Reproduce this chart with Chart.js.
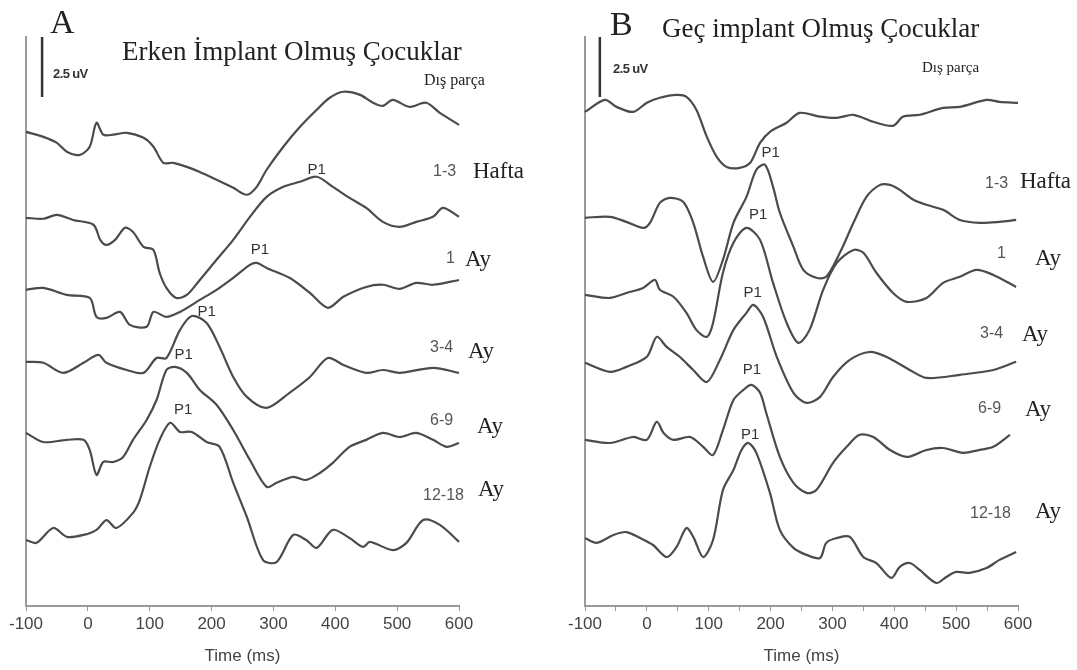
<!DOCTYPE html>
<html>
<head>
<meta charset="utf-8">
<script src="https://cdn.jsdelivr.net/npm/chart.js@4.4.1/dist/chart.umd.min.js"></script>
<style>
  body { margin: 0; background: #fff; width: 1077px; height: 670px; position: relative; overflow: hidden; }
  canvas { position: absolute; top: 0; }
  #chartA { left: 0; }
  #chartB { left: 540px; }
  .t { position: absolute; line-height: 1; white-space: nowrap; transform: translateY(-50%); }
  .serif { font-family: "Liberation Serif", "Times New Roman", serif; color: #222; }
  .sans { font-family: "Liberation Sans", Arial, sans-serif; color: #555; }
  .bar { font-family: "Liberation Sans", Arial, sans-serif; font-weight: bold; font-size: 13px; color: #333; letter-spacing: -0.6px; }
</style>
</head>
<body>
<canvas id="chartA" width="540" height="670"></canvas>
<canvas id="chartB" width="537" height="670"></canvas>

<div class="t serif" style="left:50px; top:22px; font-size:34px;">A</div>
<div class="t serif" style="left:122px; top:51px; font-size:27px;">Erken İmplant Olmuş Çocuklar</div>
<div class="t serif" style="left:424px; top:80px; font-size:16px;">Dış parça</div>
<div class="t bar" style="left:53px; top:73px;">2.5 uV</div>
<div class="t sans" style="left:433px; top:171px; font-size:16px;">1-3</div>
<div class="t serif" style="left:473px; top:170px; font-size:23px;">Hafta</div>
<div class="t sans" style="left:446px; top:258px; font-size:16px;">1</div>
<div class="t serif" style="left:465px; top:258px; font-size:23px;">Ay</div>
<div class="t sans" style="left:430px; top:347px; font-size:16px;">3-4</div>
<div class="t serif" style="left:468px; top:350px; font-size:23px;">Ay</div>
<div class="t sans" style="left:430px; top:420px; font-size:16px;">6-9</div>
<div class="t serif" style="left:477px; top:425px; font-size:23px;">Ay</div>
<div class="t sans" style="left:423px; top:495px; font-size:16px;">12-18</div>
<div class="t serif" style="left:478px; top:488px; font-size:23px;">Ay</div>

<div class="t serif" style="left:610px; top:24px; font-size:34px;">B</div>
<div class="t serif" style="left:662px; top:28px; font-size:27px;">Geç implant Olmuş Çocuklar</div>
<div class="t serif" style="left:922px; top:67px; font-size:15px;">Dış parça</div>
<div class="t bar" style="left:613px; top:68px;">2.5 uV</div>
<div class="t sans" style="left:985px; top:183px; font-size:16px;">1-3</div>
<div class="t serif" style="left:1020px; top:180px; font-size:23px;">Hafta</div>
<div class="t sans" style="left:997px; top:253px; font-size:16px;">1</div>
<div class="t serif" style="left:1035px; top:257px; font-size:23px;">Ay</div>
<div class="t sans" style="left:980px; top:333px; font-size:16px;">3-4</div>
<div class="t serif" style="left:1022px; top:333px; font-size:23px;">Ay</div>
<div class="t sans" style="left:978px; top:408px; font-size:16px;">6-9</div>
<div class="t serif" style="left:1025px; top:408px; font-size:23px;">Ay</div>
<div class="t sans" style="left:970px; top:513px; font-size:16px;">12-18</div>
<div class="t serif" style="left:1035px; top:510px; font-size:23px;">Ay</div>

<script>
// x range of both panels (ms) and the visible amplitude range (uV, traces stacked)
const timeMin = -100;
const timeMax = 600;
const ampMax = 23.7;
const scaleBarUv = 2.5;

// A: early implanted children, [time ms, amplitude uV incl. stacking offset]
const earlyOuter = [[-100,19.75],[-72,19.54],[-50,19.29],[-34,18.92],[-13,18.79],[3,19.13],[14,20.13],[25,19.63],[41,19.63],[63,19.71],[90,19.5],[106,19.13],[122,18.46],[138,18.46],[160,18.29],[181,18.08],[208,17.75],[235,17.42],[257,17.13],[273,17.46],[289,18.17],[316,19.13],[343,19.96],[370,20.67],[391,21.17],[413,21.42],[440,21.29],[461,20.96],[477,20.83],[493,21.08],[520,20.79],[547,20.96],[569,20.54],[600,20.04]];
const earlyWeek1to3 = [[-100,16.17],[-72,16.13],[-50,16.29],[-24,16.08],[9,15.88],[20,15.25],[30,15.04],[44,15.25],[60,15.75],[73,15.58],[90,14.96],[106,14.83],[116,13.88],[127,13.25],[143,12.83],[160,12.96],[181,13.58],[208,14.42],[235,15.25],[262,16.21],[289,17.04],[316,17.46],[343,17.67],[370,17.88],[396,17.46],[423,17.0],[450,16.58],[477,16.0],[504,15.79],[531,16.0],[558,16.21],[574,16.58],[600,16.21]];
const earlyMonth1 = [[-100,13.17],[-72,13.25],[-34,12.96],[3,12.83],[14,12.04],[30,12.0],[52,12.25],[68,11.71],[95,11.63],[106,12.25],[127,12.04],[149,12.25],[181,12.75],[208,13.17],[235,13.67],[262,14.21],[273,14.29],[289,14.08],[326,13.67],[359,13.04],[388,12.42],[413,12.88],[450,13.29],[477,13.38],[504,13.21],[531,13.46],[558,13.38],[600,13.58]];
const earlyMonth3to4 = [[-100,10.17],[-72,10.13],[-40,9.71],[-7,10.13],[17,10.46],[30,10.13],[63,9.83],[90,9.71],[111,10.33],[127,10.33],[149,11.5],[168,12.08],[192,11.79],[213,10.79],[235,9.54],[257,8.71],[289,8.25],[326,8.88],[359,9.54],[388,10.33],[413,10.04],[450,9.71],[477,9.83],[504,9.71],[558,9.92],[600,9.71]];
const earlyMonth6to9 = [[-100,7.21],[-72,6.83],[-34,6.92],[-7,6.92],[3,6.5],[14,5.46],[25,6.0],[41,6.0],[57,6.21],[73,6.92],[95,7.75],[111,8.58],[127,9.83],[141,9.96],[160,9.71],[181,9.0],[208,8.38],[235,7.33],[262,6.08],[289,4.96],[305,5.13],[332,5.38],[353,5.25],[375,5.54],[396,5.96],[423,6.63],[450,6.92],[477,7.21],[504,7.04],[531,7.21],[558,6.92],[580,6.63],[600,6.79]];
const earlyMonth12to18 = [[-100,2.75],[-83,2.63],[-56,3.25],[-34,2.88],[-7,2.96],[14,3.17],[30,3.58],[46,3.25],[73,3.88],[84,4.42],[100,5.79],[116,6.92],[133,7.63],[149,7.25],[168,7.25],[192,6.83],[213,6.63],[235,5.13],[257,3.71],[283,1.92],[305,1.83],[332,2.96],[353,2.75],[370,2.42],[396,3.17],[423,2.83],[445,2.46],[456,2.67],[493,2.33],[515,2.63],[542,3.58],[569,3.38],[600,2.67]];
const earlyP1 = [[370,18.17],[278,14.83],[192,12.25],[155,10.46],[154,8.17]];

// B: late implanted children
const lateOuter = [[-100,20.58],[-68,21.08],[-49,20.79],[-22,20.58],[0,20.96],[21,21.17],[48,21.29],[64,21.21],[80,20.67],[97,19.54],[113,18.71],[129,18.29],[150,18.25],[167,18.46],[183,19.29],[199,19.75],[226,20.13],[247,20.54],[280,20.38],[307,20.33],[334,20.46],[366,20.17],[398,20.0],[414,20.38],[441,20.46],[479,20.75],[506,20.79],[549,21.08],[570,21.0],[600,20.96]];
const lateWeek1to3 = [[-100,16.17],[-60,16.21],[-33,16.0],[-6,15.75],[5,15.96],[21,16.79],[37,17.0],[59,16.83],[75,15.96],[91,14.54],[107,13.5],[123,14.42],[140,15.96],[161,17.04],[177,18.17],[191,18.38],[204,17.46],[215,16.38],[237,14.96],[253,14.0],[274,13.67],[290,13.71],[312,14.71],[334,15.96],[355,17.04],[377,17.54],[393,17.54],[409,17.33],[431,16.92],[452,16.71],[479,16.5],[506,16.08],[538,15.96],[570,16.0],[597,16.08]];
const lateMonth1 = [[-100,12.96],[-60,12.83],[-33,13.04],[-6,13.25],[13,13.58],[21,13.17],[43,12.88],[64,12.21],[80,11.5],[97,11.21],[107,11.79],[123,13.88],[140,15.13],[161,15.75],[183,15.25],[204,13.46],[226,11.79],[245,10.96],[263,11.5],[285,13.17],[307,14.29],[334,14.83],[350,14.71],[371,13.88],[398,13.04],[420,12.67],[452,12.83],[479,13.46],[506,13.71],[533,14.0],[560,13.79],[597,13.29]];
const lateMonth3to4 = [[-100,10.13],[-60,9.75],[-33,9.96],[0,10.38],[16,11.21],[32,10.79],[53,10.38],[75,9.83],[97,9.33],[118,10.25],[140,11.5],[161,12.21],[172,12.54],[188,12.04],[210,10.38],[237,8.88],[258,8.46],[280,8.71],[301,9.54],[328,10.25],[360,10.58],[387,10.38],[425,9.83],[452,9.5],[506,9.63],[560,9.83],[597,10.17]];
const lateMonth6to9 = [[-100,6.92],[-60,6.79],[-22,7.04],[0,6.92],[16,7.67],[27,7.21],[43,6.92],[70,7.04],[91,6.63],[107,6.29],[123,7.33],[140,8.58],[156,9.0],[169,9.21],[183,8.88],[193,8.04],[215,6.21],[237,5.13],[258,4.71],[274,4.83],[301,5.96],[323,6.63],[344,7.13],[366,7.04],[393,6.5],[420,6.21],[452,6.5],[479,6.58],[511,6.38],[538,6.5],[560,6.63],[587,7.13]];
const lateMonth12to18 = [[-100,2.83],[-81,2.63],[-54,2.96],[-33,3.08],[-11,2.83],[10,2.54],[32,2.04],[48,2.46],[64,3.25],[75,2.88],[91,2.04],[107,2.75],[123,4.83],[140,5.67],[153,6.5],[164,6.79],[177,6.38],[199,4.71],[215,3.17],[237,2.42],[258,2.13],[280,2.0],[290,2.63],[307,2.83],[328,2.88],[350,2.04],[371,1.79],[395,1.17],[409,1.63],[425,1.79],[441,1.5],[468,0.96],[484,1.21],[500,1.42],[522,1.38],[549,1.58],[570,1.92],[597,2.25]];
const lateP1 = [[200,18.88],[180,16.29],[171,13.04],[170,9.83],[167,7.13]];

// where the 2.5 uV calibration bar sits (ms, lower end uV)
const earlyBar = [-74, 21.2];
const lateBar = [-76, 21.2];

const p1Labels = {
  id: "p1Labels",
  afterDatasetsDraw(chart, args, opts) {
    const { ctx, scales } = chart;
    ctx.save();
    ctx.font = "15px 'Liberation Sans', Arial, sans-serif";
    ctx.fillStyle = "#333";
    ctx.textAlign = "center";
    ctx.textBaseline = "middle";
    opts.points.forEach(([t, v]) => {
      ctx.fillText("P1", scales.x.getPixelForValue(t), scales.y.getPixelForValue(v));
    });
    ctx.restore();
  }
};

function makePanel(id, traces, p1, bar, padLeft, padRight, step) {
  const datasets = traces.map((d) => ({
    data: d,
    borderColor: "#4b4b4b",
    borderWidth: 2.2,
    pointRadius: 0,
    tension: 0.3,
    clip: false
  }));
  datasets.push({
    data: [[bar[0], bar[1]], [bar[0], bar[1] + scaleBarUv]],
    borderColor: "#333",
    borderWidth: 2.5,
    pointRadius: 0,
    tension: 0,
    clip: false
  });

  return new Chart(document.getElementById(id), {
    type: "line",
    data: { datasets },
    options: {
      responsive: false,
      animation: false,
      events: [],
      layout: { padding: { left: padLeft, right: padRight, top: 37, bottom: 0 } },
      plugins: { legend: { display: false }, tooltip: { enabled: false }, p1Labels: { points: p1 } },
      scales: {
        x: {
          type: "linear",
          min: timeMin,
          max: timeMax,
          afterFit: (s) => { s.height = 64; },
          border: { color: "#9a9a9a", width: 2 },
          grid: { drawOnChartArea: false, drawTicks: true, tickLength: 5, color: "#9a9a9a" },
          ticks: {
            stepSize: step,
            maxRotation: 0,
            autoSkip: false,
            padding: 3,
            color: "#444",
            font: { family: "'Liberation Sans', Arial, sans-serif", size: 17 },
            callback: (v) => (v % 100 === 0 ? v : "")
          },
          title: {
            display: true,
            text: "Time (ms)",
            color: "#444",
            font: { family: "'Liberation Sans', Arial, sans-serif", size: 17 },
            padding: { top: 0, bottom: 3 }
          }
        },
        y: {
          type: "linear",
          min: 0,
          max: ampMax,
          afterFit: (s) => { s.width = 0; },
          border: { color: "#9a9a9a", width: 2 },
          grid: { display: false },
          ticks: { display: false }
        }
      }
    },
    plugins: [p1Labels]
  });
}

makePanel("chartA",
  [earlyOuter, earlyWeek1to3, earlyMonth1, earlyMonth3to4, earlyMonth6to9, earlyMonth12to18],
  earlyP1, earlyBar, 26, 81, 100);
makePanel("chartB",
  [lateOuter, lateWeek1to3, lateMonth1, lateMonth3to4, lateMonth6to9, lateMonth12to18],
  lateP1, lateBar, 45, 59, 50);
</script>
</body>
</html>
